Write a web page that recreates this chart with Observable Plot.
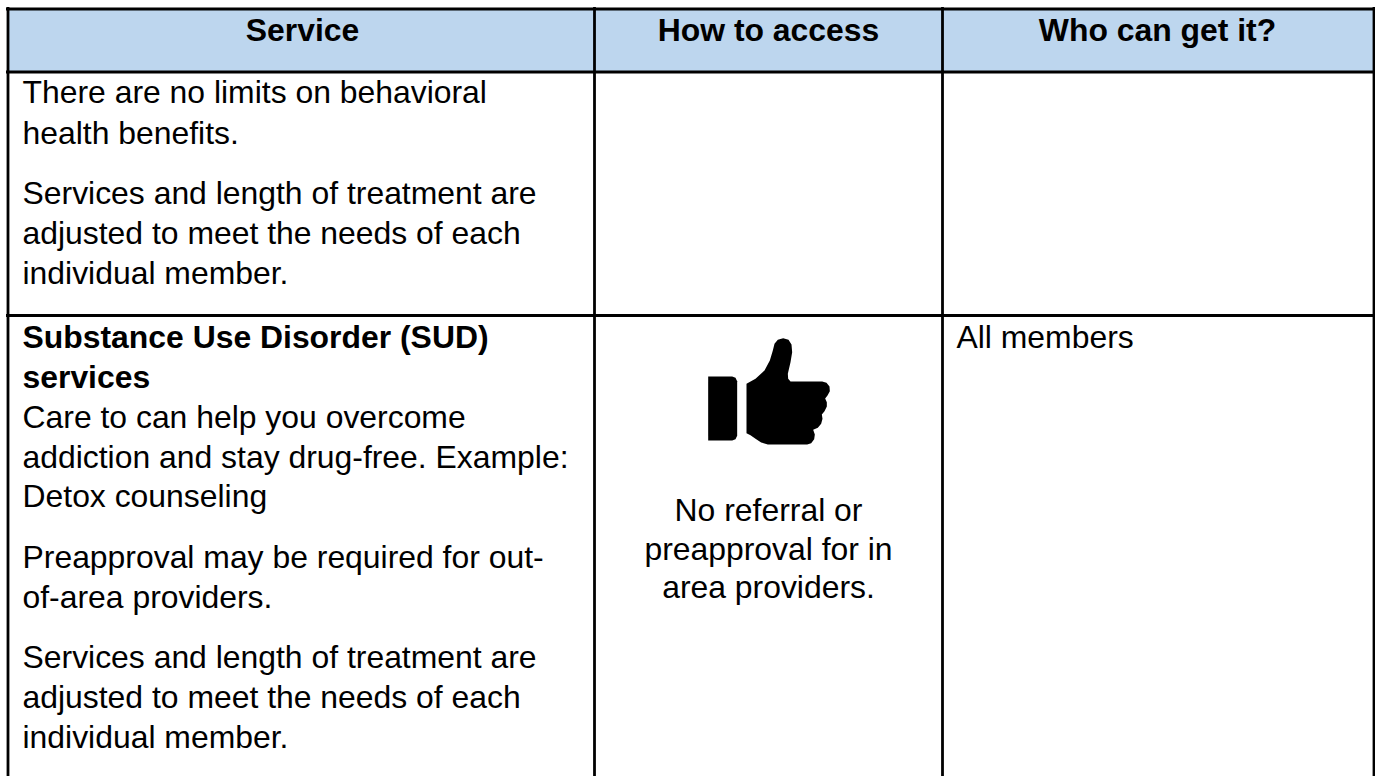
<!DOCTYPE html>
<html>
<head>
<meta charset="utf-8">
<script src="https://cdn.jsdelivr.net/npm/d3@7"></script>
<script src="https://cdn.jsdelivr.net/npm/@observablehq/plot@0.6"></script>
<style>html,body{margin:0;padding:0;background:#fff;overflow:hidden}svg{display:block}</style>
</head>
<body>
<div id="chart"></div>
<script>
const headers = ["Service", "How to access", "Who can get it?"];
const headerCenters = [302, 768, 1157];
const headerBaselines = [40, 40, 40];

const serviceLines = ["There are no limits on behavioral","health benefits.","Services and length of treatment are","adjusted to meet the needs of each","individual member.","Care to can help you overcome","addiction and stay drug-free. Example:","Detox counseling","Preapproval may be required for out-","of-area providers.","Services and length of treatment are","adjusted to meet the needs of each","individual member."];
const serviceBaselines = [102,143,203,243,283,427,467,506,567,607,667,707,747];
const boldLines = ["Substance Use Disorder (SUD)","services"];
const boldBaselines = [347,387];
const accessLines = ["No referral or","preapproval for in","area providers."];
const accessBaselines = [520,559,597];
const whoLines = ["All members"];
const whoBaselines = [347];

const columnEdges = [7.5, 594, 942, 1373.5];
const rowEdges = [8.5, 71.5, 315];

const cuffOutline = [[53,168],[125,168],[135,172],[140,182],[140,346],[135,356],[125,360],[53,360]];
const handOutline = [[168,190],[195,175],[222,150],[238,120],[247,90],[252,70],[262,58],[278,53],[294,58],[303,72],[305,95],[300,125],[292,160],[293,175],[300,183],[395,183],[408,187],[417,198],[418,212],[411,225],[404,234],[409,245],[409,258],[402,272],[394,282],[396,295],[392,310],[382,322],[368,328],[373,342],[371,356],[362,368],[350,372],[232,372],[212,366],[195,355],[180,344],[168,338]];
const crop = o => o.map(([a,b]) => ({x: 690 + a/3, y: 320 + b/3}));

const lineRows = (lines, baselines, x) => lines.map((t,i) => ({t, x, y: baselines[i]}));
const textOpts = {x:"x", y:"y", text:"t", lineAnchor:"bottom", fill:"#000", fontSize:31.9};

const chart = Plot.plot({
  width:1375, height:776, margin:0,
  x:{domain:[0,1375], range:[0,1375], axis:null},
  y:{domain:[0,776], range:[0,776], axis:null},
  style:{fontFamily:"'Liberation Sans', Arial, sans-serif", background:"#fff"},
  marks:[
    Plot.rect([0],{x1:columnEdges[0], x2:columnEdges[3], y1:rowEdges[0], y2:rowEdges[1], fill:"#BDD6EE"}),
    Plot.ruleY(rowEdges,{x1:6, x2:1375, stroke:"#000", strokeWidth:2.8}),
    Plot.ruleX(columnEdges,{y1:7, y2:776, stroke:"#000", strokeWidth:2.8}),
    Plot.text(headers.map((t,i)=>({t,x:headerCenters[i],y:headerBaselines[i]})),{...textOpts,textAnchor:"middle",fontWeight:"bold"}),
    Plot.text(lineRows(serviceLines,serviceBaselines,22),{...textOpts,textAnchor:"start"}),
    Plot.text(lineRows(boldLines,boldBaselines,22),{...textOpts,textAnchor:"start",fontWeight:"bold"}),
    Plot.text(lineRows(accessLines,accessBaselines,768),{...textOpts,textAnchor:"middle"}),
    Plot.text(lineRows(whoLines,whoBaselines,956),{...textOpts,textAnchor:"start"}),
    Plot.line(crop(cuffOutline),{x:"x",y:"y",fill:"#000",stroke:"none",curve:"linear"}),
    Plot.line(crop(handOutline),{x:"x",y:"y",fill:"#000",stroke:"none",curve:"linear"})
  ]
});
document.getElementById("chart").append(chart);
</script>
</body>
</html>
